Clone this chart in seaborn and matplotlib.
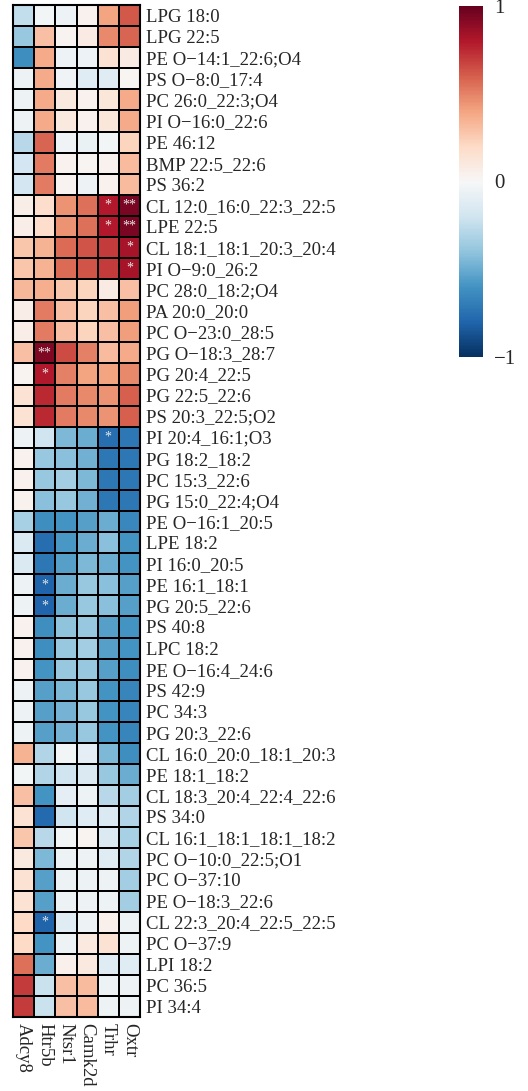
import numpy as np
import pandas as pd
import matplotlib
matplotlib.use("Agg")
import matplotlib.pyplot as plt
import seaborn as sns

genes = ["Adcy8", "Htr5b", "Ntsr1", "Camk2d", "Trhr", "Oxtr"]

lipids = [
    "LPG 18:0", "LPG 22:5", "PE O\u221214:1_22:6;O4", "PS O\u22128:0_17:4",
    "PC 26:0_22:3;O4", "PI O\u221216:0_22:6", "PE 46:12", "BMP 22:5_22:6",
    "PS 36:2", "CL 12:0_16:0_22:3_22:5", "LPE 22:5", "CL 18:1_18:1_20:3_20:4",
    "PI O\u22129:0_26:2", "PC 28:0_18:2;O4", "PA 20:0_20:0", "PC O\u221223:0_28:5",
    "PG O\u221218:3_28:7", "PG 20:4_22:5", "PG 22:5_22:6", "PS 20:3_22:5;O2",
    "PI 20:4_16:1;O3", "PG 18:2_18:2", "PC 15:3_22:6", "PG 15:0_22:4;O4",
    "PE O\u221216:1_20:5", "LPE 18:2", "PI 16:0_20:5", "PE 16:1_18:1",
    "PG 20:5_22:6", "PS 40:8", "LPC 18:2", "PE O\u221216:4_24:6",
    "PS 42:9", "PC 34:3", "PG 20:3_22:6", "CL 16:0_20:0_18:1_20:3",
    "PE 18:1_18:2", "CL 18:3_20:4_22:4_22:6", "PS 34:0", "CL 16:1_18:1_18:1_18:2",
    "PC O\u221210:0_22:5;O1", "PC O\u221237:10", "PE O\u221218:3_22:6", "CL 22:3_20:4_22:5_22:5",
    "PC O\u221237:9", "LPI 18:2", "PC 36:5", "PI 34:4",
]

adcy8 = [-0.25, -0.38, -0.62, -0.05, -0.05, -0.05, -0.28, -0.18,
         -0.18, 0.07, 0.07, 0.28, 0.28, 0.33, 0.07, 0.07,
         0.30, 0.03, 0.15, 0.15, -0.05, 0.04, 0.04, 0.04,
         -0.33, -0.15, -0.15, -0.05, -0.05, 0.04, 0.04, 0.04,
         -0.05, -0.05, -0.05, 0.35, -0.03, 0.30, 0.15, 0.28,
         0.10, 0.15, 0.15, 0.20, 0.20, 0.55, 0.70, 0.70]
htr5b = [-0.03, 0.30, 0.38, 0.38, 0.38, 0.38, 0.58, 0.52,
         0.52, 0.18, 0.18, 0.35, 0.35, 0.36, 0.52, 0.52,
         0.93, 0.80, 0.75, 0.75, -0.20, -0.38, -0.38, -0.42,
         -0.62, -0.76, -0.72, -0.80, -0.80, -0.62, -0.62, -0.60,
         -0.55, -0.55, -0.55, -0.30, -0.30, -0.60, -0.78, -0.28,
         -0.45, -0.55, -0.55, -0.80, -0.60, -0.50, -0.22, -0.22]
ntsr1 = [-0.06, 0.03, -0.06, -0.04, 0.10, 0.10, -0.04, 0.04,
         0.03, 0.45, 0.45, 0.57, 0.57, 0.28, 0.30, 0.30,
         0.65, 0.50, 0.52, 0.52, -0.45, -0.42, -0.35, -0.38,
         -0.60, -0.58, -0.55, -0.50, -0.50, -0.40, -0.38, -0.38,
         -0.45, -0.47, -0.47, -0.03, -0.20, -0.10, -0.20, -0.03,
         -0.05, -0.05, -0.05, -0.12, -0.05, 0.05, 0.30, 0.30]
camk2d = [0.04, 0.08, -0.06, -0.12, 0.04, 0.04, -0.07, 0.02,
          -0.05, 0.55, 0.55, 0.63, 0.63, 0.22, 0.22, 0.22,
          0.50, 0.40, 0.48, 0.48, -0.50, -0.48, -0.45, -0.48,
          -0.55, -0.50, -0.45, -0.38, -0.38, -0.38, -0.35, -0.38,
          -0.38, -0.38, -0.38, -0.10, -0.15, -0.05, -0.12, 0.03,
          -0.05, -0.05, -0.05, -0.05, 0.10, 0.10, 0.32, 0.32]
trhr = [0.40, 0.48, 0.15, -0.12, 0.12, 0.12, -0.03, 0.04,
        0.04, 0.80, 0.80, 0.70, 0.70, 0.08, 0.30, 0.30,
        0.32, 0.40, 0.45, 0.45, -0.76, -0.72, -0.72, -0.72,
        -0.50, -0.42, -0.50, -0.42, -0.42, -0.55, -0.55, -0.55,
        -0.60, -0.60, -0.60, -0.45, -0.38, -0.28, -0.15, -0.15,
        -0.12, -0.05, -0.05, 0.05, 0.15, -0.12, -0.05, -0.05]
oxtr = [0.62, 0.58, 0.08, 0.02, 0.38, 0.38, 0.22, 0.32,
        0.32, 0.95, 0.95, 0.83, 0.83, 0.30, 0.42, 0.42,
        0.38, 0.48, 0.60, 0.60, -0.72, -0.72, -0.72, -0.72,
        -0.65, -0.60, -0.60, -0.55, -0.55, -0.60, -0.60, -0.62,
        -0.66, -0.66, -0.66, -0.62, -0.50, -0.35, -0.30, -0.33,
        -0.30, -0.35, -0.35, -0.05, -0.05, -0.12, -0.05, -0.05]

# significance marks: (lipid index, gene, mark)
sig_rows = [9, 9, 10, 10, 11, 12, 16, 17, 20, 27, 28, 43]
sig_cols = ["Trhr", "Oxtr", "Trhr", "Oxtr", "Oxtr", "Oxtr", "Htr5b", "Htr5b", "Trhr", "Htr5b", "Htr5b", "Htr5b"]
sig_marks = ["*", "**", "*", "**", "*", "*", "**", "*", "*", "*", "*", "*"]

df = pd.DataFrame({"Adcy8": adcy8, "Htr5b": htr5b, "Ntsr1": ntsr1,
                   "Camk2d": camk2d, "Trhr": trhr, "Oxtr": oxtr}, index=lipids)[genes]

annot = pd.DataFrame("", index=lipids, columns=genes)
for r, c, m in zip(sig_rows, sig_cols, sig_marks):
    annot.iloc[r, genes.index(c)] = m

sns.set_theme(style="white")
plt.rcParams["font.family"] = ["Liberation Serif", "DejaVu Serif"]
plt.rcParams["axes.unicode_minus"] = True

fig = plt.figure(figsize=(5.28, 10.91), dpi=100)
ax = fig.add_axes([13 / 528, 1 - 1017 / 1091, 127 / 528, 1012 / 1091])
cax = fig.add_axes([459 / 528, 1 - 357 / 1091, 24 / 528, 351 / 1091])

sns.heatmap(df, ax=ax, cbar_ax=cax, cmap="RdBu_r", vmin=-1, vmax=1,
            linewidths=1.2, linecolor="black", annot=annot.values, fmt="",
            annot_kws={"color": "#e8e8e8", "fontsize": 10, "va": "center"})

for sp in ax.spines.values():
    sp.set_visible(True)
    sp.set_color("black")
    sp.set_linewidth(1.5)

ax.yaxis.tick_right()
ax.set_yticks(np.arange(len(lipids)) + 0.5)
ax.set_yticklabels(lipids, rotation=0, fontsize=13.5)
ax.set_xticks(np.arange(len(genes)) + 0.5)
ax.set_xticklabels(genes, rotation=-90, fontsize=13.5, va="top", ha="center")
ax.tick_params(axis="both", length=0, pad=4)
ax.set_xlabel("")
ax.set_ylabel("")

cax.set_yticks([-1, 0, 1])
cax.set_yticklabels(["\u22121", "0", "1"])
cax.tick_params(labelsize=15, length=0, pad=8)
cax.collections[0].colorbar.outline.set_visible(False) if hasattr(cax.collections[0], "colorbar") and cax.collections[0].colorbar is not None else None
for sp in cax.spines.values():
    sp.set_visible(False)

fig.savefig("out.png", dpi=100)
